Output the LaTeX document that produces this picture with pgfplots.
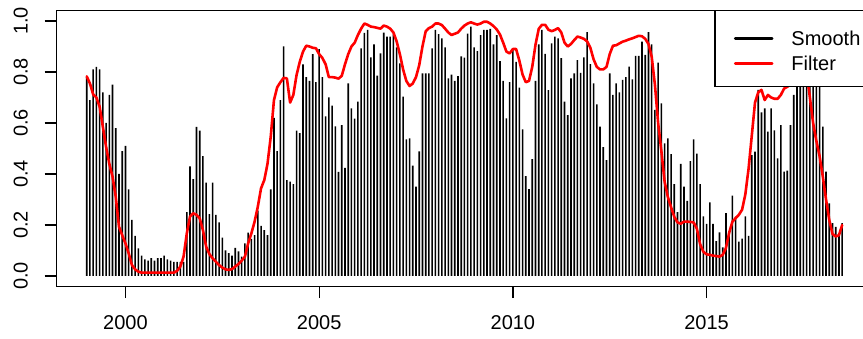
\documentclass[border=0pt]{standalone}
\usepackage{fontspec}
\setmainfont{Liberation Sans}
\usepackage{pgfplots}
\usepackage{pgfplotstable}
\pgfplotsset{compat=1.18}

% s = Smooth (monthly, from Jan 1999), f = Filter
\pgfplotstableread{
s f
0.78 0.783
0.69 0.755
0.81 0.712
0.82 0.70
0.81 0.664
0.72 0.585
0.60 0.507
0.71 0.44
0.75 0.39
0.58 0.31
0.40 0.193
0.49 0.16
0.51 0.128
0.34 0.089
0.22 0.043
0.157 0.026
0.108 0.017
0.08 0.013
0.065 0.013
0.06 0.013
0.07 0.013
0.06 0.013
0.07 0.013
0.07 0.013
0.08 0.013
0.065 0.013
0.06 0.013
0.055 0.013
0.055 0.02
0.055 0.037
0.055 0.076
0.25 0.167
0.43 0.233
0.38 0.246
0.585 0.24
0.57 0.226
0.47 0.18
0.366 0.115
0.243 0.086
0.366 0.069
0.24 0.056
0.21 0.043
0.15 0.033
0.10 0.026
0.09 0.024
0.08 0.027
0.11 0.037
0.097 0.047
0.076 0.06
0.128 0.076
0.17 0.128
0.146 0.167
0.16 0.213
0.256 0.272
0.197 0.344
0.18 0.376
0.16 0.44
0.34 0.546
0.62 0.69
0.49 0.74
0.69 0.76
0.90 0.777
0.376 0.775
0.37 0.68
0.36 0.71
0.57 0.788
0.56 0.84
0.83 0.88
0.78 0.903
0.765 0.9
0.87 0.895
0.76 0.893
0.89 0.87
0.78 0.855
0.626 0.83
0.70 0.78
0.668 0.78
0.587 0.778
0.408 0.774
0.592 0.785
0.424 0.83
0.755 0.87
0.657 0.9
0.617 0.915
0.684 0.945
0.893 0.97
0.953 0.99
0.965 0.985
0.857 0.978
0.908 0.976
0.786 0.973
0.873 0.97
0.954 0.982
0.939 0.978
0.939 0.97
0.948 0.955
0.897 0.92
0.834 0.87
0.703 0.81
0.536 0.765
0.54 0.745
0.433 0.755
0.35 0.78
0.489 0.827
0.795 0.9
0.795 0.96
0.795 0.972
0.893 0.978
0.965 0.99
0.949 0.99
0.932 0.984
0.897 0.97
0.775 0.955
0.79 0.945
0.765 0.95
0.784 0.955
0.861 0.97
0.856 0.982
0.95 0.99
0.978 0.995
0.897 0.99
0.882 0.986
0.945 0.99
0.965 0.997
0.965 0.997
0.969 0.99
0.908 0.98
0.945 0.967
0.843 0.947
0.765 0.915
0.618 0.88
0.76 0.873
0.893 0.89
0.84 0.89
0.739 0.845
0.575 0.79
0.392 0.76
0.341 0.765
0.458 0.82
0.765 0.906
0.908 0.969
0.965 0.985
0.871 0.985
0.729 0.966
0.912 0.96
0.939 0.965
0.932 0.972
0.854 0.955
0.684 0.915
0.631 0.9
0.775 0.91
0.795 0.925
0.847 0.939
0.797 0.935
0.857 0.93
0.956 0.92
0.831 0.895
0.755 0.85
0.673 0.82
0.586 0.81
0.505 0.81
0.454 0.82
0.795 0.87
0.71 0.903
0.755 0.905
0.72 0.912
0.769 0.919
0.78 0.923
0.821 0.928
0.771 0.932
0.863 0.937
0.863 0.942
0.919 0.94
0.867 0.93
0.956 0.91
0.908 0.86
0.651 0.75
0.837 0.60
0.677 0.49
0.52 0.37
0.54 0.31
0.478 0.27
0.36 0.232
0.25 0.21
0.44 0.205
0.35 0.213
0.295 0.213
0.45 0.212
0.536 0.21
0.48 0.185
0.36 0.125
0.234 0.095
0.204 0.085
0.289 0.083
0.204 0.08
0.137 0.078
0.171 0.076
0.112 0.083
0.247 0.11
0.174 0.17
0.315 0.213
0.233 0.227
0.135 0.24
0.147 0.26
0.234 0.32
0.157 0.42
0.474 0.55
0.488 0.68
0.73 0.72
0.642 0.73
0.657 0.69
0.566 0.71
0.657 0.70
0.571 0.695
0.461 0.695
0.592 0.71
0.409 0.735
0.413 0.742
0.592 0.75
0.71 0.77
0.80 0.80
0.93 0.83
0.85 0.84
0.78 0.80
0.96 0.70
0.88 0.60
0.95 0.53
0.90 0.47
0.586 0.39
0.409 0.30
0.285 0.22
0.207 0.165
0.193 0.155
0.167 0.16
0.207 0.20
}\datatab

\begin{document}
\begin{tikzpicture}
\begin{axis}[
  at={(56.5pt,52.8pt)}, anchor=south west,
  scale only axis, width=815.9pt, height=275.4pt,
  xmin=1998.22, xmax=2019.28, ymin=-0.04, ymax=1.04,
  axis line style={black, line width=1.25pt},
  xtick={2000,2005,2010,2015}, xticklabels={2000,2005,2010,2015},
  ytick={0,0.2,0.4,0.6,0.8,1}, yticklabels={0.0,0.2,0.4,0.6,0.8,1.0},
  tick align=outside, major tick length=12pt,
  xtick pos=bottom, ytick pos=left,
  tick style={black, line width=1.25pt},
  ticklabel style={font=\fontsize{20}{24}\selectfont, inner sep=0pt},
  xticklabel style={anchor=base, yshift=-31pt},
  yticklabel style={xshift=-16.8pt, rotate=90, anchor=base},
  legend style={at={(1,1)}, anchor=north east, draw=black, line width=1.25pt,
    fill=white, outer sep=0pt, inner xsep=12pt, inner ysep=16pt,
    row sep=6pt, column sep=0pt, font=\fontsize{20}{24}\selectfont,
    nodes={inner sep=0pt, outer sep=0pt, text height=19pt, text depth=0pt},
    cells={anchor=west}},
]
\addplot[ybar, bar width=1.6pt, fill=black, draw=none,
  legend image code/.code={\path (0pt,0pt) (62pt,0pt);
    \draw[black, line width=2.6pt, line cap=round] (7pt,-2.5pt) -- (44pt,-2.5pt);}]
  table[x expr=1999+\coordindex/12, y=s] {\datatab};
\addplot[red, line width=2.6pt, line join=round, line cap=round,
  legend image code/.code={\path (0pt,0pt) (62pt,0pt);
    \draw[red, line width=2.6pt, line cap=round] (7pt,-2.5pt) -- (44pt,-2.5pt);}]
  table[x expr=1999+\coordindex/12, y=f] {\datatab};
\legend{Smooth,Filter}
\end{axis}
\pgfresetboundingbox
\path[use as bounding box] (0pt,0pt) rectangle (863pt,339pt);
\end{tikzpicture}
\end{document}
